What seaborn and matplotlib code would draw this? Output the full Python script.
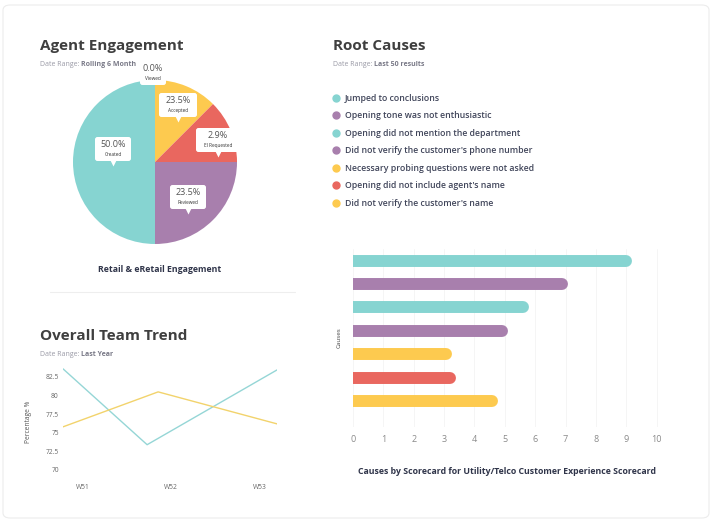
import matplotlib
matplotlib.use("Agg")
import matplotlib.pyplot as plt
from matplotlib.lines import Line2D
from matplotlib.patches import FancyBboxPatch
import pandas as pd
import numpy as np
import seaborn as sns

# --- data ---
pie_labels = ["Viewed", "Accepted", "El Requested", "Reviewed", "Created"]
pie_sizes = [0.0, 12.5, 12.5, 25.0, 50.0]
pie_pct_text = ["0.0%", "23.5%", "2.9%", "23.5%", "50.0%"]

weeks = ["W51", "W52", "W53"]
teal_x = [-0.227, 0.727, 2.2]
teal_y = [83.6, 73.4, 83.45]
yellow_x = [-0.227, 0.852, 2.2]
yellow_y = [75.8, 80.5, 76.2]

causes = ["Jumped to conclusions",
          "Opening tone was not enthusiastic",
          "Opening did not mention the department",
          "Did not verify the customer's phone number",
          "Necessary probing questions were not asked",
          "Opening did not include agent's name",
          "Did not verify the customer's name"]
cause_counts = [9.2, 7.07, 5.8, 5.1, 3.25, 3.4, 4.77]

TEAL = "#86d4d1"
PURPLE = "#a87fad"
YELLOW = "#fdca4f"
RED = "#e9675f"
cause_colors = [TEAL, PURPLE, TEAL, PURPLE, YELLOW, RED, YELLOW]
pie_colors = ["#cccccc", YELLOW, RED, PURPLE, TEAL]

sns.set_theme(style="white")
plt.rcParams['font.family'] = ['Open Sans', 'DejaVu Sans']

W, H = 713, 523
fig = plt.figure(figsize=(W / 100, H / 100), dpi=100)
fig.patch.set_facecolor("white")

def fx(px):
    return px / W

def fy(py):
    return 1 - py / H

TITLE_C = "#3f3f3f"
DARK = "#30354a"

# card border
fig.add_artist(FancyBboxPatch((fx(3), fy(518)), fx(706), fy(5) - fy(518),
                              boxstyle="round,pad=0,rounding_size=0.01",
                              transform=fig.transFigure, facecolor="none",
                              edgecolor="#ececec", lw=0.8))


def header(x, y, title, rng):
    fig.text(fx(x), fy(y), title, fontsize=11, fontweight="bold", color=TITLE_C, va="center")
    t = fig.text(fx(x), fy(y + 19), "Date Range: ", fontsize=5, color="#9a9aa6", va="center")
    fig.canvas.draw()
    bb = t.get_window_extent()
    fig.text(bb.x1 / W, fy(y + 19), rng, fontsize=5, color="#7a7a88", fontweight="bold", va="center")


header(40, 46, "Agent Engagement", "Rolling 6 Month")
header(40, 336, "Overall Team Trend", "Last Year")
header(333, 46, "Root Causes", "Last 50 results")

# --- pie ---
cx, cy, r = 155, 162, 82
axp = fig.add_axes([fx(cx - r), fy(cy + r), (2 * r) / W, (2 * r) / H])
axp.pie(pie_sizes, colors=pie_colors, startangle=90, counterclock=False,
        wedgeprops=dict(linewidth=0))
axp.set_xlim(-1, 1)
axp.set_ylim(-1, 1)
axp.set_aspect("auto")

# callout boxes: centre (px), width (px)
label_pos = {"Viewed": (153, 73, 26), "Accepted": (178, 105, 38),
             "El Requested": (218, 140, 44), "Created": (113, 149, 36),
             "Reviewed": (188, 197, 36)}
for lab, pct in zip(pie_labels, pie_pct_text):
    px, py, bw = label_pos[lab]
    xd, yd = (px - cx) / r, (cy - py) / r
    w, h = bw / r, 24 / r
    axp.add_patch(FancyBboxPatch((xd - w / 2, yd - h / 2), w, h,
                                 boxstyle="round,pad=0,rounding_size=0.03",
                                 fc="white", ec="none", clip_on=False, zorder=5))
    if lab != "Viewed":
        axp.plot([xd], [yd - h / 2 - 0.02], marker="v", ms=4.5, color="white",
                 clip_on=False, zorder=5, mec="none")
    axp.text(xd, yd + 0.055, pct, fontsize=6.5, ha="center", va="center", color="#555555",
             clip_on=False, zorder=6)
    axp.text(xd, yd - 0.065, lab, fontsize=3.4, ha="center", va="center", color="#333333",
             clip_on=False, zorder=6)

fig.text(fx(160), fy(270), "Retail & eRetail Engagement", fontsize=6.3, fontweight="bold",
         color=DARK, ha="center", va="center")
fig.add_artist(Line2D([fx(50), fx(295)], [fy(292), fy(292)], color="#eeeeee", lw=0.8))

# --- line chart ---
y_top, y_bot = 377 - 1.5 * 7.44, 470 + 7.44
axl = fig.add_axes([fx(63), fy(y_bot), fx(277 - 63), (y_bot - y_top) / H])
trend = pd.DataFrame({"x": teal_x + yellow_x, "y": teal_y + yellow_y,
                      "series": ["a"] * 3 + ["b"] * 3})
sns.lineplot(data=trend, x="x", y="y", hue="series", palette=["#95d6d6", "#f2d36c"],
             linewidth=1.0, legend=False, ax=axl)
axl.set_xlim(teal_x[0], teal_x[-1])
axl.set_ylim(69, 84)
axl.set_yticks([70, 72.5, 75, 77.5, 80, 82.5])
axl.set_yticklabels(["70", "72.5", "75", "77.5", "80", "82.5"])
axl.set_xticks([0, 1, 2])
axl.set_xticklabels(weeks)
axl.tick_params(axis="both", length=0, labelsize=4.8, colors="#666666")
axl.tick_params(axis="y", pad=3)
axl.tick_params(axis="x", pad=5)
axl.set_xlabel("")
axl.set_ylabel("Percentage %", fontsize=4.8, color="#555555", labelpad=10)
for s in axl.spines.values():
    s.set_visible(False)
axl.patch.set_alpha(0)

# --- bar chart ---
b_top, b_bot = 249, 426.7
axb = fig.add_axes([fx(353), fy(b_bot), fx(681 - 353), (b_bot - b_top) / H])
bars = pd.DataFrame({"cause": causes, "count": cause_counts})
sns.barplot(data=bars, y="cause", x="count", hue="cause", palette=cause_colors,
            legend=False, width=0.5, saturation=1, ax=axb)
axb.set_xlim(0, 10.8)
axb.set_ylim(7.1, -0.5)
px_per_unit = 30.4
cap = 6 / px_per_unit
for p in axb.patches:
    yc = p.get_y() + p.get_height() / 2
    axb.plot([0, p.get_width() - cap], [yc, yc], color=p.get_facecolor(), lw=8.6,
             solid_capstyle="round", zorder=3)
    p.set_visible(False)
axb.set_xticks(range(0, 11))
axb.set_yticks([])
axb.tick_params(axis="x", length=0, labelsize=6.5, colors="#8a8a8a", pad=6)
axb.set_xlabel("")
axb.set_ylabel("Causes", fontsize=4.5, color="#444444", labelpad=8)
axb.grid(axis="x", color="#f4f4f4", lw=0.6)
for s in axb.spines.values():
    s.set_visible(False)

handles = [Line2D([], [], marker="o", ls="", ms=5, color=c) for c in cause_colors]
fig.legend(handles, causes, loc="upper left", bbox_to_anchor=(fx(332), fy(94)),
           frameon=False, prop={"size": 6.3, "weight": "semibold"}, labelspacing=0.97,
           handletextpad=0.45, handlelength=1.0, borderaxespad=0, borderpad=0,
           labelcolor="#40455a")

fig.text(fx(507), fy(472), "Causes by Scorecard for Utility/Telco Customer Experience Scorecard",
         fontsize=6.3, fontweight="bold", color=DARK, ha="center", va="center")

fig.savefig("out.png", dpi=100, facecolor="white")
